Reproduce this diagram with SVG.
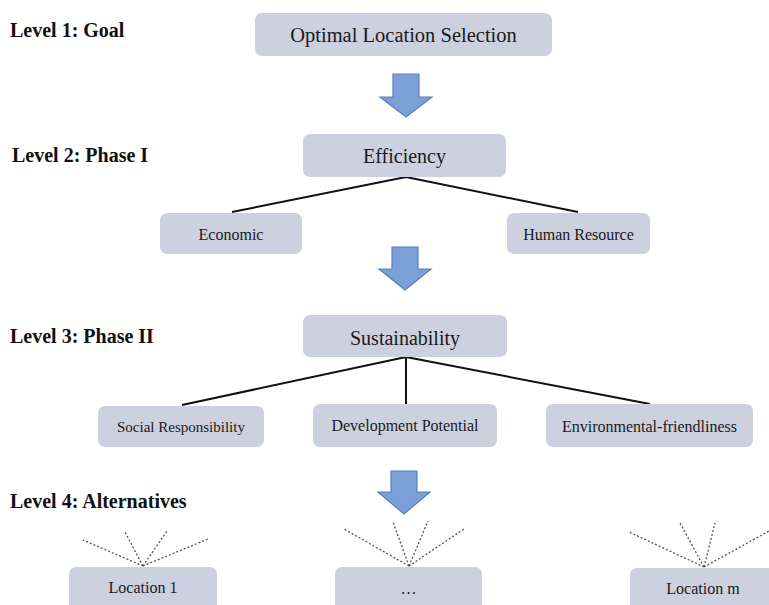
<svg xmlns="http://www.w3.org/2000/svg" width="769" height="605" viewBox="0 0 769 605" font-family="'Liberation Serif', 'DejaVu Serif', serif">
<style>
text{font-family:'Liberation Serif','DejaVu Serif',serif}
.lvl{font-weight:bold;font-size:20px;fill:#111}
.box{fill:#ccd0df}
.t{fill:#1a1a1a;text-anchor:middle}
.big{font-size:20px}
.sm{font-size:16px}
.arrow{fill:#7d9fd8;stroke:#5b7fbf;stroke-width:1.2}
.ln{stroke:#111;stroke-width:2;fill:none}
.dot{stroke:#555;stroke-width:1.3;stroke-dasharray:2 2;fill:none}
</style>
<rect width="769" height="605" fill="#fff"/>
<g id="levels">
<text class="lvl" x="10" y="37">Level 1: Goal</text>
<text class="lvl" x="12" y="162">Level 2: Phase I</text>
<text class="lvl" x="10" y="343">Level 3: Phase II</text>
<text class="lvl" x="10" y="508">Level 4: Alternatives</text>
</g>
<g id="connectors">
<polygon class="arrow" points="393,74 419,74 419,97 432,97 406,117 380,97 393,97"/>
<polygon class="arrow" points="392,247 418,247 418,269 431,269 405,290 379,269 392,269"/>
<polygon class="arrow" points="391,471 417,471 417,492 430,492 404,514 378,492 391,492"/>
<path class="ln" d="M406,177 L232,212 M406,177 L578,212"/>
<path class="ln" d="M406,357 L182,405 M406,357 L406,404 M406,357 L650,404"/>
<path class="dot" d="M143,566 L83,540 M143,566 L125,532 M143,566 L167,531 M143,566 L208,539"/>
<path class="dot" d="M409,566 L344,529 M409,566 L393,522 M409,566 L428,521 M409,566 L464,529"/>
<path class="dot" d="M704,567 L629,532 M704,567 L680,523 M704,567 L715,523 M704,567 L769,531"/>
</g>
<g id="goal">
<rect class="box" x="255" y="13" width="297" height="43" rx="7"/>
<text class="t" x="403.5" y="42" font-size="20.5">Optimal Location Selection</text>
</g>
<g id="efficiency">
<rect class="box" x="303" y="134" width="203" height="43" rx="7"/>
<text class="t big" x="404.5" y="163">Efficiency</text>
</g>
<g id="economic">
<rect class="box" x="160" y="213" width="142" height="41" rx="7"/>
<text class="t sm" x="231" y="240">Economic</text>
</g>
<g id="human">
<rect class="box" x="507" y="213" width="143" height="41" rx="7"/>
<text class="t sm" x="578.5" y="240">Human Resource</text>
</g>
<g id="sustainability">
<rect class="box" x="303" y="315" width="204" height="42" rx="7"/>
<text class="t big" x="405" y="345">Sustainability</text>
</g>
<g id="social">
<rect class="box" x="98" y="406" width="166" height="41" rx="7"/>
<text class="t" x="181" y="432" font-size="15">Social Responsibility</text>
</g>
<g id="development">
<rect class="box" x="313" y="404" width="184" height="43" rx="7"/>
<text class="t sm" x="405" y="431">Development Potential</text>
</g>
<g id="environmental">
<rect class="box" x="546" y="404" width="207" height="43" rx="7"/>
<text class="t sm" x="649.5" y="432">Environmental-friendliness</text>
</g>
<g id="loc1">
<rect class="box" x="69" y="567" width="148" height="44" rx="7"/>
<text class="t sm" x="143" y="593">Location 1</text>
</g>
<g id="locdots">
<rect class="box" x="335" y="567" width="147" height="44" rx="7"/>
<text class="t sm" x="408.5" y="594">…</text>
</g>
<g id="locm">
<rect class="box" x="630" y="568" width="145" height="44" rx="7"/>
<text class="t sm" x="703" y="594">Location m</text>
</g>
</svg>
